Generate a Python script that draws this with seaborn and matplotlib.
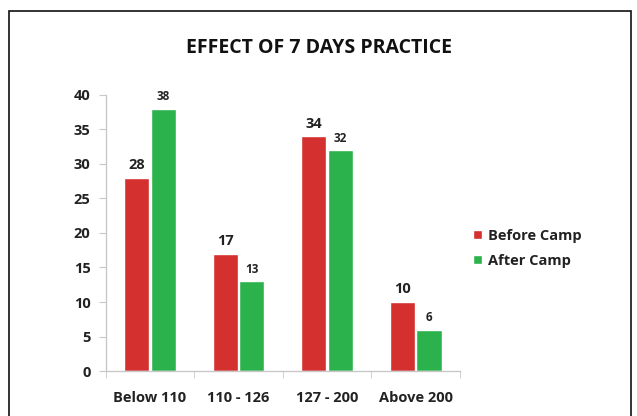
import pandas as pd
import matplotlib.pyplot as plt
import seaborn as sns
from matplotlib.patches import Rectangle

# Chart data
groups = ['Below 110', '110 - 126', '127 - 200', 'Above 200']
before_camp = [28, 17, 34, 10]
after_camp = [38, 13, 32, 6]
series = ['Before Camp', 'After Camp']

df = pd.DataFrame({
    'Group': groups * 2,
    'Count': before_camp + after_camp,
    'Phase': [series[0]] * len(groups) + [series[1]] * len(groups),
})

sns.set_style('white')
plt.rcParams['font.family'] = ['Open Sans', 'DejaVu Sans']

fig = plt.figure(figsize=(6.37, 4.16), dpi=100)
ax = fig.add_axes([0.166, 0.108, 0.556, 0.664])

palette = {'Before Camp': '#D3302F', 'After Camp': '#2BB24C'}
sns.barplot(data=df, x='Group', y='Count', hue='Phase', palette=palette,
            width=0.6, gap=0.05, ax=ax, saturation=1)

# Bar labels: red ones a bit larger
for cont, size in zip(ax.containers, [10.5, 8.5]):
    ax.bar_label(cont, padding=4, fontsize=size, fontweight='bold', color='#222222')

ax.set_ylim(0, 40)
ax.set_yticks(range(0, 41, 5))
ax.set_xlim(-0.5, 3.5)
ax.set_xlabel('')
ax.set_ylabel('')

for s in ['top', 'right']:
    ax.spines[s].set_visible(False)
for s in ['left', 'bottom']:
    ax.spines[s].set_color('#c8c8c8')
    ax.spines[s].set_linewidth(1)

ax.tick_params(axis='y', left=True, length=5, color='#c8c8c8', labelsize=10.5, pad=6)
ax.tick_params(axis='x', bottom=False, labelsize=10.5, pad=11)
ax.set_xticks([-0.5, 0.5, 1.5, 2.5, 3.5], minor=True)
ax.tick_params(axis='x', which='minor', bottom=True, length=5, color='#c8c8c8')
for lab in ax.get_xticklabels() + ax.get_yticklabels():
    lab.set_fontweight('bold')
    lab.set_color('#222222')

leg = ax.legend(loc='center left', bbox_to_anchor=(1.0, 0.445), frameon=False,
                fontsize=10.5, handlelength=0.6, handleheight=0.6, handletextpad=0.4,
                labelspacing=0.75)
for t in leg.get_texts():
    t.set_fontweight('bold')
    t.set_color('#222222')

fig.text(0.5, 0.884, 'EFFECT OF 7 DAYS PRACTICE', ha='center', va='center',
         fontsize=14, fontweight='bold', color='#111111')

# outer chart border
fig.patches.append(Rectangle((9 / 637, -0.05), 622 / 637, 1 - 11 / 416 + 0.05,
                             transform=fig.transFigure, fill=False,
                             edgecolor='#111111', linewidth=1.2))

fig.savefig('out.png', dpi=100)
